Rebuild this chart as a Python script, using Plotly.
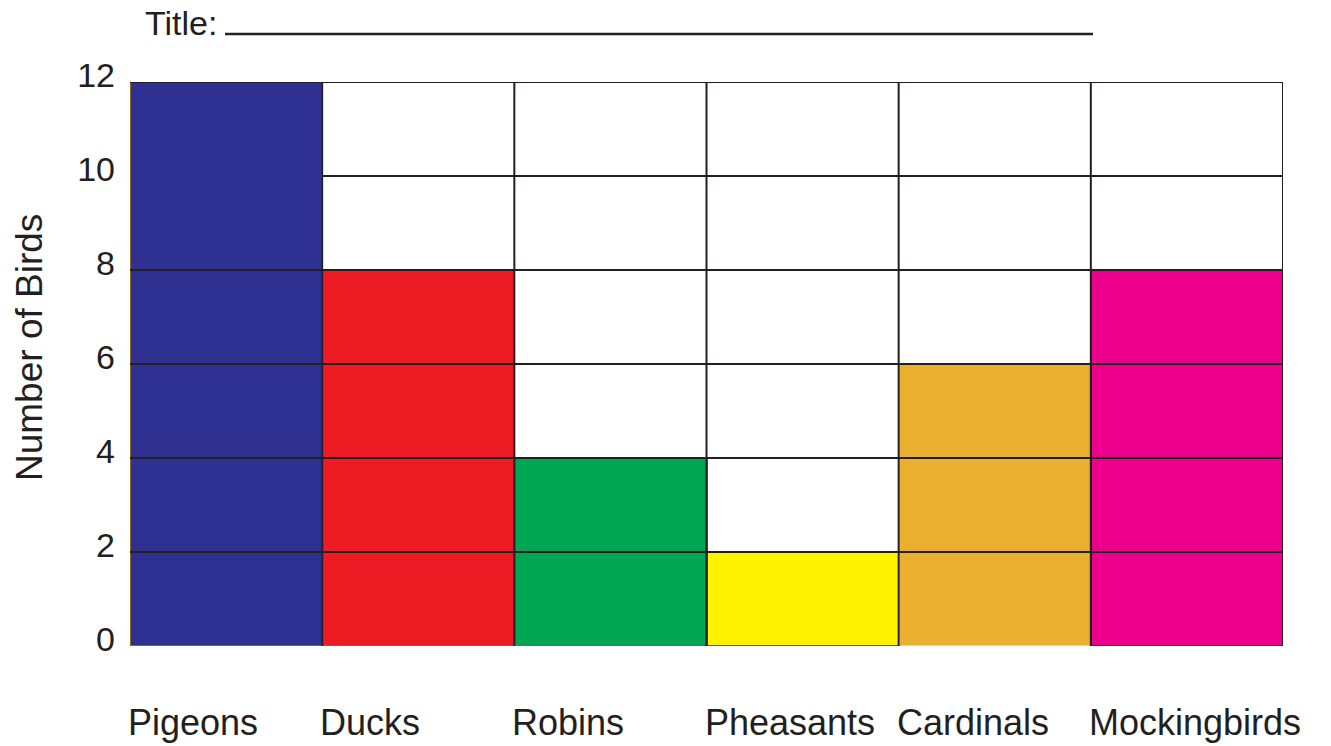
import plotly.graph_objects as go

birds = ["Pigeons", "Ducks", "Robins", "Pheasants", "Cardinals", "Mockingbirds"]
counts = [12, 8, 4, 2, 6, 8]
bar_colors = ["#2E3192", "#ED1C24", "#00A651", "#FFF200", "#EAAF2F", "#EC008C"]
edge_colors = ["#8B6A1A", "#8B6A1A", "#8B6A1A", "#6B5A10", "#FFD060", "#333333"]
y_ticks = [0, 2, 4, 6, 8, 10, 12]

FONT = "Liberation Sans, Arial, sans-serif"
TXT = "#231F20"
idx = list(range(len(birds)))

# page body has an 8px margin, so the figure is 8px smaller and offset
W, H = 1323, 738
L, R, T, B = 122, 48, 74, 100
PW, PH = W - L - R, H - T - B

fig = go.Figure()
fig.add_trace(go.Bar(
    x=idx, y=counts, width=1.0,
    marker=dict(color=bar_colors, line=dict(color=edge_colors, width=2)),
    hoverinfo="skip", showlegend=False,
))

shapes = []
for t in y_ticks[1:]:
    x0 = -0.5 if t != 10 else 0.5
    shapes.append(dict(type="line", xref="x", yref="y", x0=x0, x1=len(birds) - 0.5,
                       y0=t, y1=t, line=dict(color=TXT, width=2), layer="above"))
for i in range(1, len(birds) + 1):
    shapes.append(dict(type="line", xref="x", yref="y", x0=i - 0.5, x1=i - 0.5,
                       y0=0, y1=max(y_ticks), line=dict(color=TXT, width=2), layer="above"))
shapes.append(dict(type="line", xref="x", yref="y", x0=0.5, x1=len(birds) - 0.5,
                   y0=0, y1=0, line=dict(color=TXT, width=2), layer="below"))
shapes.append(dict(type="line", xref="x", yref="y", x0=-0.5, x1=-0.5,
                   y0=0, y1=max(y_ticks), line=dict(color="#999999", width=1), layer="below"))
# title underline
uy = 1 + (T - 26) / PH
shapes.append(dict(type="line", xref="paper", yref="paper", x0=(217 - L) / PW, x1=(1085 - L) / PW,
                   y0=uy, y1=uy, line=dict(color=TXT, width=2.5)))

annotations = [
    dict(text="Title:", xref="paper", yref="paper", x=(135 - L) / PW,
         y=1 + (T - 15) / PH, xanchor="left", yanchor="middle", showarrow=False,
         font=dict(family=FONT, size=34, color=TXT)),
    dict(text="Number of Birds", xref="paper", yref="paper", x=(21 - L) / PW,
         y=1 - (340 - T) / PH, xanchor="center", yanchor="middle", textangle=-90,
         showarrow=False, font=dict(family=FONT, size=37, color=TXT)),
]
for i, b in enumerate(birds):
    annotations.append(dict(text=b, xref="x", yref="paper", x=i - 0.5, y=-(714 - (H - B)) / PH,
                            xanchor="left", xshift=-4, yanchor="middle", showarrow=False,
                            font=dict(family=FONT, size=36, color=TXT)))

fig.update_layout(
    width=W, height=H,
    margin=dict(l=L, r=R, t=T, b=B),
    paper_bgcolor="white", plot_bgcolor="white",
    bargap=0,
    shapes=shapes, annotations=annotations,
    xaxis=dict(range=[-0.5, len(birds) - 0.5], showticklabels=False, showgrid=False,
               zeroline=False, showline=False, ticks=""),
    yaxis=dict(range=[0, max(y_ticks)], tickvals=y_ticks, showgrid=False, zeroline=False,
               showline=False, ticks="", ticklabelstandoff=14, ticklabelshift=-7,
               tickfont=dict(family=FONT, size=34, color=TXT)),
)

fig.write_html("out.html")
